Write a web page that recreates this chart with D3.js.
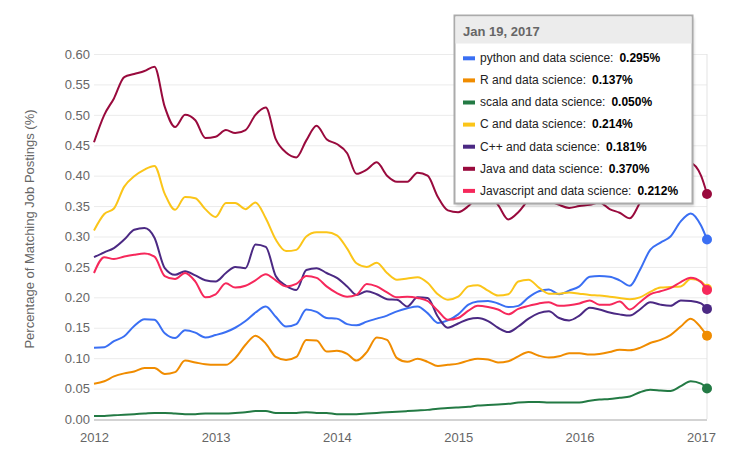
<!DOCTYPE html>
<html>
<head>
<meta charset="utf-8">
<script src="https://cdn.jsdelivr.net/npm/d3@7"></script>
<style>
  body { margin: 0; background: #fff; }
  text { font-family: "Helvetica Neue", Helvetica, Arial, "Liberation Sans", sans-serif; }
</style>
</head>
<body>
<div id="chart"></div>
<script>
var w = 736, h = 462;
var margin = {left: 94, right: 29, top: 54, bottom: 43};

// monthly samples Jan 2012 .. Jan 2017, plus the last reading on Jan 19, 2017
var dates = d3.timeMonth.range(new Date(2012, 0, 1), new Date(2017, 0, 2));
dates.push(new Date(2017, 0, 19));

var names = ['python and data science', 'R and data science', 'scala and data science',
  'C and data science', 'C++ and data science', 'Java and data science', 'Javascript and data science'];
var colors = ['#3a6ff3', '#f08c00', '#237a44', '#fbc519', '#4b2983', '#990a3d', '#f6285b'];

var python = [0.117,0.118,0.128,0.136,0.153,0.164,0.163,0.141,0.133,0.146,0.142,0.134,
  0.138,0.143,0.15,0.161,0.175,0.185,0.168,0.152,0.156,0.18,0.176,0.166,
  0.165,0.156,0.154,0.16,0.165,0.17,0.177,0.182,0.185,0.174,0.158,0.162,
  0.172,0.188,0.193,0.194,0.19,0.184,0.186,0.2,0.21,0.213,0.205,0.211,
  0.218,0.234,0.235,0.234,0.228,0.219,0.245,0.278,0.29,0.3,0.325,0.338,
  0.318,0.295];
var rLang = [0.058,0.062,0.07,0.075,0.078,0.084,0.084,0.074,0.077,0.096,0.093,0.09,
  0.089,0.089,0.1,0.122,0.137,0.124,0.102,0.097,0.102,0.13,0.129,0.111,
  0.112,0.107,0.096,0.11,0.134,0.13,0.1,0.094,0.099,0.094,0.087,0.089,
  0.091,0.096,0.099,0.098,0.093,0.095,0.103,0.11,0.104,0.101,0.103,0.108,
  0.108,0.106,0.107,0.11,0.114,0.113,0.117,0.125,0.13,0.138,0.152,0.165,
  0.15,0.137];
var scala = [0.005,0.005,0.006,0.007,0.008,0.009,0.01,0.01,0.009,0.008,0.008,0.009,
  0.009,0.009,0.01,0.011,0.013,0.013,0.01,0.01,0.01,0.011,0.01,0.01,
  0.008,0.008,0.008,0.009,0.01,0.011,0.012,0.013,0.014,0.015,0.017,0.018,
  0.019,0.02,0.022,0.023,0.024,0.025,0.027,0.028,0.028,0.027,0.027,0.027,
  0.027,0.03,0.032,0.033,0.035,0.037,0.044,0.048,0.047,0.046,0.054,0.062,
  0.058,0.05];
var cLang = [0.31,0.337,0.346,0.382,0.399,0.41,0.416,0.37,0.344,0.365,0.363,0.345,
  0.332,0.355,0.355,0.345,0.356,0.33,0.295,0.276,0.278,0.3,0.307,0.307,
  0.302,0.28,0.256,0.25,0.257,0.24,0.229,0.231,0.233,0.224,0.205,0.196,
  0.201,0.218,0.22,0.211,0.203,0.205,0.226,0.229,0.216,0.206,0.206,0.208,
  0.206,0.204,0.203,0.201,0.199,0.197,0.2,0.209,0.216,0.217,0.218,0.23,
  0.226,0.214];
var cpp = [0.266,0.274,0.281,0.295,0.311,0.314,0.298,0.248,0.237,0.243,0.236,0.228,
  0.226,0.24,0.25,0.248,0.287,0.283,0.235,0.219,0.212,0.245,0.248,0.24,
  0.232,0.218,0.204,0.21,0.205,0.197,0.196,0.185,0.2,0.199,0.168,0.15,
  0.157,0.164,0.166,0.161,0.15,0.143,0.152,0.165,0.174,0.177,0.166,0.162,
  0.17,0.183,0.18,0.175,0.172,0.17,0.18,0.192,0.188,0.186,0.195,0.194,
  0.19,0.181];
var java = [0.455,0.5,0.527,0.562,0.567,0.572,0.579,0.513,0.48,0.5,0.491,0.462,
  0.464,0.475,0.47,0.475,0.5,0.512,0.46,0.438,0.43,0.458,0.482,0.46,
  0.452,0.437,0.403,0.41,0.422,0.4,0.39,0.39,0.405,0.4,0.365,0.343,
  0.34,0.35,0.365,0.37,0.352,0.328,0.34,0.36,0.37,0.36,0.352,0.347,
  0.35,0.352,0.356,0.345,0.339,0.33,0.355,0.38,0.395,0.41,0.415,0.42,
  0.4,0.37];
var javascript = [0.24,0.266,0.263,0.267,0.27,0.272,0.267,0.235,0.23,0.24,0.226,0.2,
  0.205,0.223,0.216,0.219,0.228,0.238,0.228,0.218,0.222,0.235,0.232,0.218,
  0.207,0.201,0.204,0.222,0.218,0.208,0.2,0.201,0.199,0.194,0.178,0.163,
  0.166,0.178,0.186,0.184,0.18,0.172,0.181,0.186,0.19,0.192,0.186,0.187,
  0.19,0.195,0.188,0.188,0.193,0.18,0.192,0.205,0.21,0.215,0.225,0.232,
  0.225,0.212];

var yTicks = [0, 0.05, 0.1, 0.15, 0.2, 0.25, 0.3, 0.35, 0.4, 0.45, 0.5, 0.55, 0.6];

var series = [python, rLang, scala, cLang, cpp, java, javascript].map(function(v, i) {
  return {name: names[i], color: colors[i], values: v};
});

var x = d3.scaleTime().domain([dates[0], dates[dates.length - 1]]).range([margin.left, w - margin.right]);
var y = d3.scaleLinear().domain([0, 0.6]).range([h - margin.bottom, margin.top]);

var svg = d3.select('#chart').append('svg')
  .attr('width', w)
  .attr('height', h);

// grid + y labels
var yAxis = svg.append('g')
  .attr('transform', 'translate(' + margin.left + ',0)')
  .call(d3.axisLeft(y).tickValues(yTicks).tickFormat(d3.format('.2f'))
    .tickSizeInner(-(w - margin.left - margin.right)).tickSizeOuter(0).tickPadding(4));
yAxis.select('.domain').remove();
yAxis.selectAll('line').attr('stroke', '#ebebeb');
yAxis.selectAll('text').attr('fill', '#666').style('font-size', '13px');

// baseline and right border
svg.append('line')
  .attr('x1', margin.left).attr('x2', w - margin.right)
  .attr('y1', y(0) + 1).attr('y2', y(0) + 1)
  .attr('stroke', '#d3d3d3').attr('stroke-width', 2);
svg.append('line')
  .attr('x1', w - margin.right).attr('x2', w - margin.right)
  .attr('y1', margin.top).attr('y2', y(0))
  .attr('stroke', '#e3e3e3');

var xAxis = svg.append('g')
  .attr('transform', 'translate(0,' + y(0) + ')')
  .call(d3.axisBottom(x).ticks(d3.timeYear.every(1)).tickFormat(d3.timeFormat('%Y'))
    .tickSize(0).tickPadding(14));
xAxis.select('.domain').remove();
xAxis.selectAll('text').attr('fill', '#666').style('font-size', '13px');

svg.append('text')
  .attr('transform', 'translate(34,229) rotate(-90)')
  .attr('text-anchor', 'middle')
  .attr('fill', '#666')
  .style('font-size', '13px')
  .text('Percentage of Matching Job Postings (%)');

var line = d3.line()
  .x(function(d, i) { return x(dates[i]); })
  .y(function(d) { return y(d); })
  .curve(d3.curveMonotoneX);

var g = svg.selectAll('.series')
  .data(series)
  .enter().append('g');

g.append('path')
  .attr('d', function(d) { return line(d.values); })
  .attr('fill', 'none')
  .attr('stroke', function(d) { return d.color; })
  .attr('stroke-width', 2)
  .attr('stroke-linejoin', 'round');

g.append('circle')
  .attr('cx', x(dates[dates.length - 1]))
  .attr('cy', function(d) { return y(d.values[d.values.length - 1]); })
  .attr('r', 5)
  .attr('fill', function(d) { return d.color; });

// tooltip
var tip = svg.append('g');
var defs = svg.append('defs');
defs.append('filter').attr('id', 'blur')
  .append('feGaussianBlur').attr('stdDeviation', 1.5);

tip.append('rect')
  .attr('x', 456).attr('y', 18).attr('width', 238).attr('height', 188)
  .attr('fill', '#000').attr('opacity', 0.18).attr('filter', 'url(#blur)');
tip.append('rect')
  .attr('x', 454.5).attr('y', 15.5).attr('width', 238).attr('height', 188)
  .attr('fill', '#fff').attr('stroke', '#ababab').attr('stroke-width', 2);
tip.append('rect')
  .attr('x', 455.5).attr('y', 16.5).attr('width', 236).attr('height', 27)
  .attr('fill', '#ececec');
tip.append('text')
  .attr('x', 463).attr('y', 36)
  .attr('fill', '#666')
  .style('font-size', '13px').style('font-weight', 'bold')
  .text(d3.timeFormat('%b %-d, %Y')(dates[dates.length - 1]));

var rows = tip.selectAll('.row')
  .data(series)
  .enter().append('g')
  .attr('transform', function(d, i) { return 'translate(0,' + (58.3 + i * 22.1) + ')'; });

rows.append('rect')
  .attr('x', 463).attr('y', -2).attr('width', 12).attr('height', 4)
  .attr('fill', function(d) { return d.color; });

var t = rows.append('text')
  .attr('x', 480).attr('y', 3.8)
  .attr('fill', '#222')
  .style('font-size', '12px');
t.append('tspan').text(function(d) { return d.name + ':'; });
t.append('tspan')
  .attr('dx', 6)
  .style('font-weight', 'bold')
  .attr('fill', '#000')
  .text(function(d) { return d3.format('.3f')(d.values[d.values.length - 1]) + '%'; });
</script>
</body>
</html>
